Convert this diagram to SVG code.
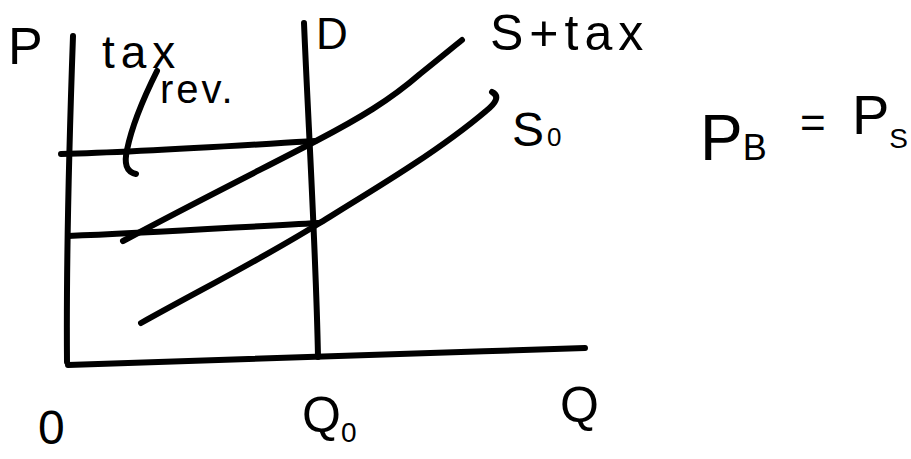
<svg xmlns="http://www.w3.org/2000/svg" width="911" height="459" viewBox="0 0 911 459">
<style>
.ln{fill:none;stroke:#000;stroke-width:6;stroke-linecap:round;stroke-linejoin:round}
.t{font-family:"Liberation Sans","DejaVu Sans",sans-serif;fill:#000}
</style>
<rect width="911" height="459" fill="#fff"/>
<g id="axes">
<path class="ln" d="M73,36 C70,120 66,240 67,362"/>
<path class="ln" d="M68,365 C200,360 400,354 585,348"/>
</g>
<g id="demand">
<path class="ln" d="M304,23 C308,120 316,250 318,357"/>
<text class="t" x="316" y="49" font-size="44">D</text>
</g>
<g id="supply-tax">
<path class="ln" d="M123,241 C190,205 260,170 316,141 C360,118 390,100 420,74 C440,58 452,48 462,40"/>
<text class="t" x="490" y="50" font-size="50" letter-spacing="6">S+tax</text>
</g>
<g id="supply0">
<path class="ln" d="M141,323 C200,290 260,260 318,224 C380,186 440,150 486,111 C496,103 500,96 492,92"/>
<text class="t" x="512" y="146" font-size="48">S<tspan font-size="26" dx="3">0</tspan></text>
</g>
<g id="price-lines">
<path class="ln" d="M61,154 C140,152 230,146 315,141"/>
<path class="ln" d="M68,236 C150,233 240,227 318,223"/>
</g>
<g id="labels">
<text class="t" x="8" y="64" font-size="52">P</text>
<text class="t" x="102" y="68" font-size="46" letter-spacing="6">tax</text>
<text class="t" x="160" y="103" font-size="40" letter-spacing="3">rev.</text>
<path class="ln" d="M157,71 C145,95 132,125 127,150 C124,163 126,172 136,174"/>
<text class="t" x="700" y="160" font-size="64">P<tspan font-size="36">B</tspan></text>
<text class="t" x="800" y="138" font-size="44">=</text>
<text class="t" x="852" y="134" font-size="56">P<tspan font-size="28" dy="14">S</tspan></text>
<text class="t" x="38" y="444" font-size="48">0</text>
<text class="t" x="302" y="432" font-size="50">Q<tspan font-size="28" dy="10">0</tspan></text>
<text class="t" x="560" y="422" font-size="50">Q</text>
</g>
</svg>
